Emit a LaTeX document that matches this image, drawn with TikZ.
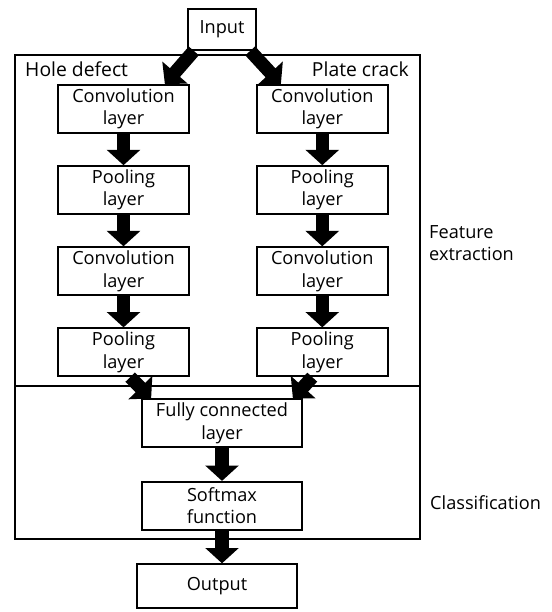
\documentclass[tikz,border=0pt]{standalone}
\usepackage{fontspec}
\setmainfont{Open Sans}
\usepackage{tikz}
\usetikzlibrary{positioning,arrows.meta}

\begin{document}
\begin{tikzpicture}[node distance=0.94cm,
		layer/.style={draw, line width=1.5pt, minimum width=3.93cm, minimum height=1.44cm, align=center, inner sep=1pt, font=\fontsize{15.5}{19}\selectfont},
		fat/.style={line width=0.4cm, -{Triangle[width=0.98cm, length=0.46cm]}},
		frame/.style={line width=1.5pt}]
		\useasboundingbox (0,0) rectangle (16.53,-18.36);
		
		% Draw the input
		\node (input) [layer, minimum width=2.04cm, minimum height=1.23cm] at (6.66,-0.885) {Input};
		
		% Draw the outer frame
		\draw[frame] (0.45,-1.65) rectangle (12.6,-16.17);
		\draw[frame] (0.45,-11.58) -- (12.6,-11.58);
		
		% Draw the hole defect branch
		\node (conv1L) [layer] at (3.705,-3.27) {Convolution\\layer};
		\node (pool1L) [layer, below=of conv1L] {Pooling\\layer};
		\node (conv2L) [layer, below=of pool1L] {Convolution\\layer};
		\node (pool2L) [layer, below=of conv2L] {Pooling\\layer};
		
		% Draw the plate crack branch
		\node (conv1R) [layer, right=1.98cm of conv1L] {Convolution\\layer};
		\node (pool1R) [layer, below=of conv1R] {Pooling\\layer};
		\node (conv2R) [layer, below=of pool1R] {Convolution\\layer};
		\node (pool2R) [layer, below=of conv2R] {Pooling\\layer};
		
		% Draw the classifier
		\coordinate (mid) at (input |- pool2L.south);
		\node (fc) [layer, minimum width=4.8cm, below=0.64cm of mid] {Fully connected\\layer};
		\node (softmax) [layer, minimum width=4.8cm, below=0.98cm of fc] {Softmax\\function};
		\node (output) [layer, minimum width=4.8cm, minimum height=1.32cm, below=0.98cm of softmax, xshift=-0.15cm] {Output};
		
		% Draw the labels
		\node (hole) [anchor=west, inner sep=0pt, font=\fontsize{16.5}{19}\selectfont] at (0.75,-2.07) {Hole defect};
		\node (plate) [anchor=east, inner sep=0pt, font=\fontsize{16.5}{19}\selectfont] at (12.27,-2.07) {Plate crack};
		\node (feature) [anchor=west, align=left, inner sep=0pt, font=\fontsize{15.5}{19}\selectfont] at (12.87,-7.29) {Feature\\extraction};
		\node (classif) [anchor=west, inner sep=0pt, font=\fontsize{15.5}{19}\selectfont] at (12.9,-15.09) {Classification};
		
		% Connect the layers with arrows
		\draw[fat] ([xshift=0.2cm]input.south west) -- ([xshift=-0.75cm]conv1L.north east);
		\draw[fat] ([xshift=-0.2cm]input.south east) -- ([xshift=0.75cm]conv1R.north west);
		\draw[fat] (conv1L) -- (pool1L);
		\draw[fat] (pool1L) -- (conv2L);
		\draw[fat] (conv2L) -- (pool2L);
		\draw[fat] (conv1R) -- (pool1R);
		\draw[fat] (pool1R) -- (conv2R);
		\draw[fat] (conv2R) -- (pool2R);
		\draw[fat] ([xshift=0.2cm]pool2L.south) -- ([xshift=0.3cm]fc.north west);
		\draw[fat] ([xshift=-0.3cm]pool2R.south) -- ([xshift=-0.3cm]fc.north east);
		\draw[fat] (fc) -- (softmax);
		\draw[fat] (softmax.south) -- (softmax.south |- output.north);
	\end{tikzpicture}
\end{document}
